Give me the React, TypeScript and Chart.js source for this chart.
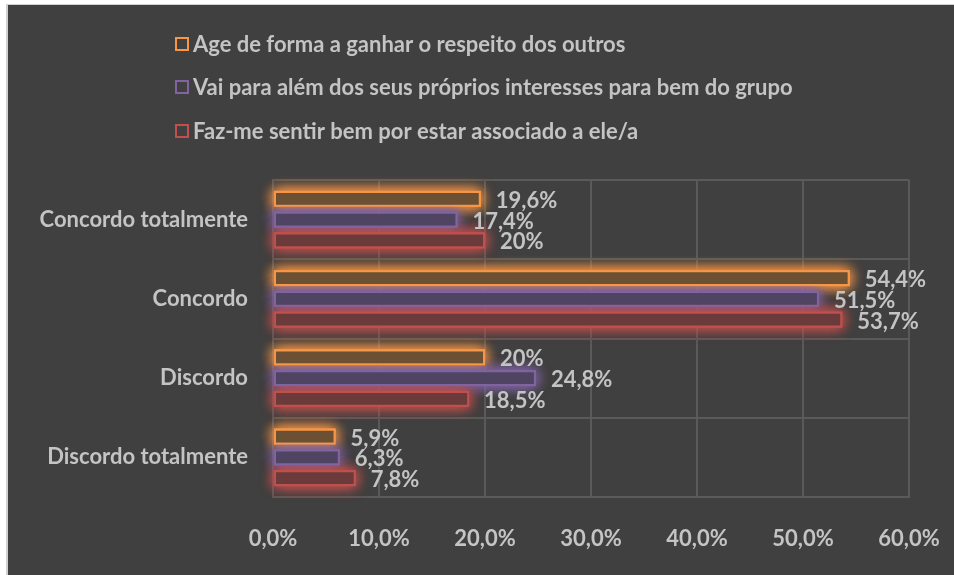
import React, { useEffect, useRef } from "react";
import { Chart, registerables } from "chart.js";

Chart.register(...registerables);

const categories = ["Concordo totalmente", "Concordo", "Discordo", "Discordo totalmente"];
const seriesNames = [
  "Age de forma a ganhar o respeito dos outros",
  "Vai para além dos seus próprios interesses para bem do grupo",
  "Faz-me sentir bem por estar associado a ele/a",
];
const ageValues = [19.6, 54.4, 20, 5.9];
const vaiValues = [17.4, 51.5, 24.8, 6.3];
const fazValues = [20, 53.7, 18.5, 7.8];
const xTicks = [0, 10, 20, 30, 40, 50, 60];

const borderColors = ["#F79646", "#8064A2", "#C0504D"];
const fillColors = ["#6b5033", "#4f4563", "#6a3b3a"];
const glowColors = ["rgba(247,150,70,0.9)", "rgba(128,100,162,0.9)", "rgba(192,80,77,0.9)"];

const FONT = "Lato, 'Open Sans', sans-serif";
const FS = 22;
const TEXT = "#c4c4c4";
const GRID = "#5a5a5a";

const fmt = (v: number) => String(v).replace(".", ",") + "%";

const glowPlugin = {
  id: "glow",
  beforeDatasetsDraw(chart: any) {
    const ctx = chart.ctx;
    chart.data.datasets.forEach((_: any, di: number) => {
      const meta = chart.getDatasetMeta(di);
      meta.data.forEach((bar: any) => {
        const p = bar.getProps(["x", "y", "base", "height"], true);
        const left = Math.min(p.x, p.base);
        const w = Math.abs(p.x - p.base);
        const top = p.y - p.height / 2;
        ctx.save();
        ctx.shadowColor = glowColors[di];
        ctx.shadowBlur = 14;
        ctx.fillStyle = glowColors[di];
        for (let k = 0; k < 3; k++) ctx.fillRect(left, top, w, p.height);
        ctx.restore();
      });
    });
  },
  afterDatasetsDraw(chart: any) {
    const ctx = chart.ctx;
    ctx.save();
    ctx.font = `bold ${FS}px ${FONT}`;
    ctx.fillStyle = TEXT;
    ctx.textAlign = "left";
    ctx.textBaseline = "middle";
    chart.data.datasets.forEach((ds: any, di: number) => {
      const meta = chart.getDatasetMeta(di);
      meta.data.forEach((bar: any, i: number) => {
        const p = bar.getProps(["x", "y"], true);
        ctx.fillText(fmt(ds.data[i]), p.x + 15, p.y + 2);
      });
    });
    ctx.restore();
  },
};

const legendPlugin = {
  id: "customLegend",
  afterDraw(chart: any) {
    const ctx = chart.ctx;
    ctx.save();
    ctx.font = `bold ${FS}px ${FONT}`;
    ctx.textBaseline = "middle";
    ctx.textAlign = "left";
    const ys = [39, 82, 126];
    seriesNames.forEach((name, i) => {
      const y = ys[i];
      ctx.strokeStyle = borderColors[i];
      ctx.lineWidth = 2;
      ctx.strokeRect(168, y - 6, 12, 12);
      ctx.fillStyle = TEXT;
      ctx.fillText(name, 185, y + 1);
    });
    ctx.restore();
  },
};

export default function App() {
  const ref = useRef<HTMLCanvasElement>(null);
  useEffect(() => {
    if (!ref.current) return;
    const chart = new Chart(ref.current, {
      type: "bar",
      data: {
        labels: categories,
        datasets: [ageValues, vaiValues, fazValues].map((d, i) => ({
          label: seriesNames[i],
          data: d,
          backgroundColor: fillColors[i],
          borderColor: borderColors[i],
          borderWidth: 2,
          borderSkipped: false,
          categoryPercentage: 0.785,
          barPercentage: 0.77,
        })),
      },
      options: {
        indexAxis: "y",
        animation: false,
        responsive: true,
        maintainAspectRatio: false,
        layout: { padding: { top: 175, right: 45, left: 0, bottom: 0 } },
        plugins: { legend: { display: false }, tooltip: { enabled: false } },
        scales: {
          x: {
            min: 0,
            max: 60,
            afterBuildTicks: (scale: any) => {
              scale.ticks = xTicks.map((v) => ({ value: v }));
            },
            afterFit: (scale: any) => {
              scale.height = 78;
              scale.paddingRight = 0;
              scale.paddingLeft = 0;
            },
            grid: { color: GRID, lineWidth: 2, drawTicks: false },
            border: { display: true, color: GRID, width: 2 },
            ticks: {
              padding: 29,
              color: TEXT,
              font: { family: FONT, size: FS, weight: "bold" },
              callback: (v: any) => Number(v).toFixed(1).replace(".", ",") + "%",
            },
          },
          y: {
            afterFit: (scale: any) => {
              scale.width = 265;
              scale.paddingTop = 0;
              scale.paddingBottom = 0;
            },
            grid: { color: GRID, lineWidth: 2, drawTicks: false, offset: true },
            border: { display: true, color: GRID, width: 2 },
            ticks: {
              padding: 25,
              color: TEXT,
              font: { family: FONT, size: FS, weight: "bold" },
            },
          },
        },
      },
      plugins: [glowPlugin, legendPlugin],
    } as any);
    return () => chart.destroy();
  }, []);
  return (
    <div
      style={{
        position: "fixed",
        left: 6,
        top: 4,
        right: 0,
        bottom: 0,
        background: "#404040",
        borderLeft: "2px solid #d0d0d0",
        borderTop: "1px solid #d0d0d0",
      }}
    >
      <canvas ref={ref} style={{ display: "block", width: "100%", height: "100%" }} />
    </div>
  );
}
